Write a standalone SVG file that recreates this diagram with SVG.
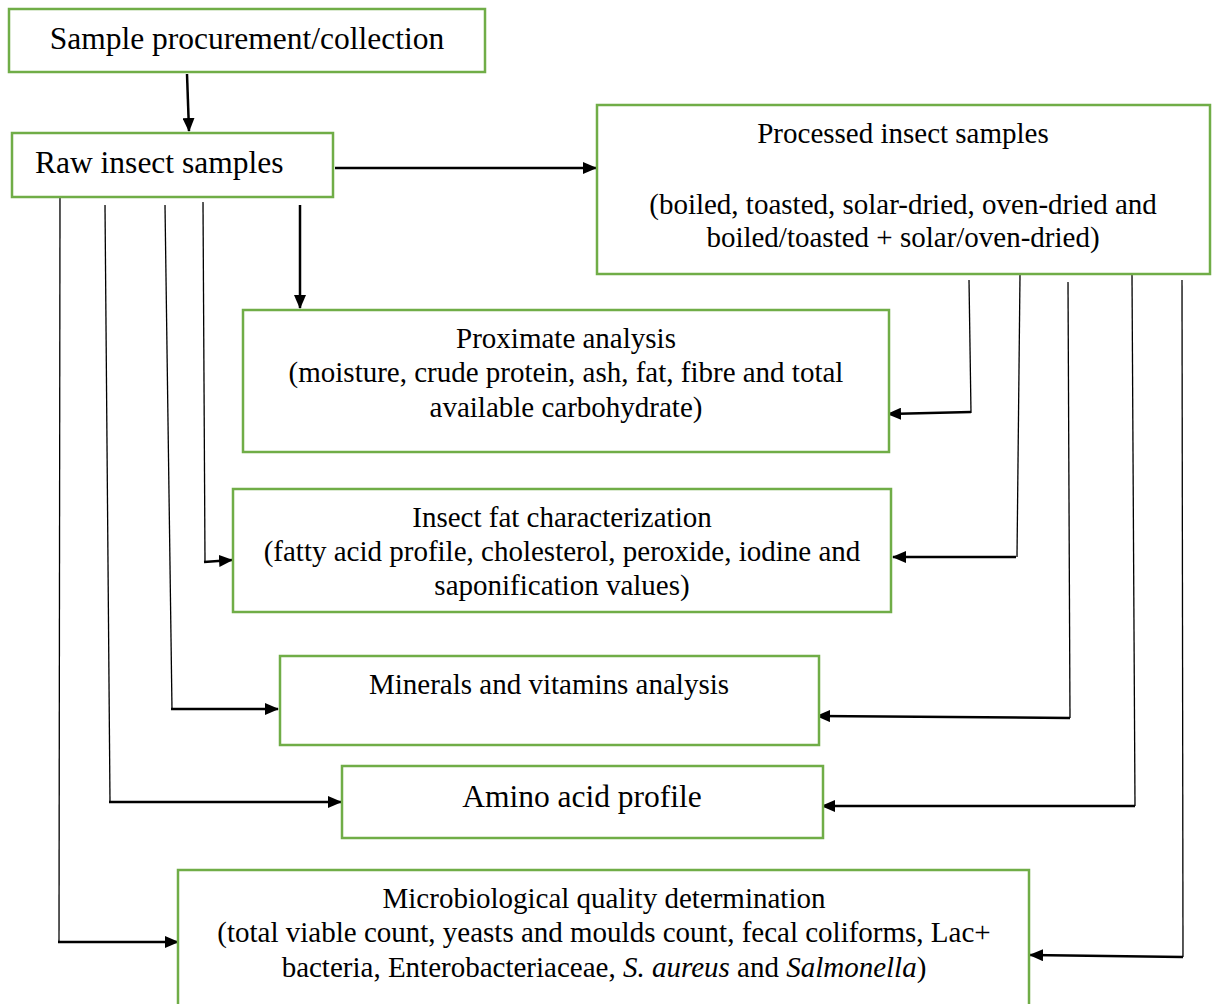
<svg xmlns="http://www.w3.org/2000/svg" width="1216" height="1004" viewBox="0 0 1216 1004">
<style>
.box{fill:#fff;stroke:#70AD47;stroke-width:2.5}
text{font-family:"Liberation Serif","Times New Roman",serif;fill:#000}
.t{font-size:29px}
.tb{font-size:31.5px}
.c{text-anchor:middle}
.v{stroke:#000;stroke-width:1.3;fill:none}
.h{stroke:#000;stroke-width:2.5;fill:none;marker-end:url(#ah)}
</style>
<defs>
<marker id="ah" markerUnits="userSpaceOnUse" markerWidth="14" markerHeight="12" refX="13" refY="6" orient="auto">
<path d="M0,0 L14,6 L0,12 Z" fill="#000"/>
</marker>
</defs>
<rect width="1216" height="1004" fill="#fff"/>
<g id="connectors">
<line class="h" x1="187" y1="74" x2="189" y2="131"/>
<line class="h" x1="335" y1="168" x2="596" y2="168"/>
<line class="h" x1="300" y1="205" x2="300" y2="308"/>
<line class="v" x1="60" y1="197" x2="59" y2="942"/>
<line class="h" x1="58" y1="942" x2="178" y2="942"/>
<line class="v" x1="105" y1="205" x2="110" y2="802"/>
<line class="h" x1="109" y1="802" x2="341" y2="802"/>
<line class="v" x1="165" y1="205" x2="172" y2="709"/>
<line class="h" x1="171" y1="709" x2="278" y2="709"/>
<line class="v" x1="203" y1="202" x2="205" y2="562"/>
<line class="h" x1="204" y1="562" x2="232" y2="560"/>
<line class="v" x1="969" y1="280" x2="971" y2="413"/>
<line class="h" x1="971" y1="412" x2="888" y2="414"/>
<line class="v" x1="1020" y1="275" x2="1017" y2="557"/>
<line class="h" x1="1016" y1="557" x2="893" y2="557"/>
<line class="v" x1="1068" y1="282" x2="1070" y2="718"/>
<line class="h" x1="1070" y1="718" x2="817" y2="716"/>
<line class="v" x1="1132" y1="275" x2="1135" y2="806"/>
<line class="h" x1="1135" y1="806" x2="822" y2="806"/>
<line class="v" x1="1182" y1="280" x2="1183" y2="957"/>
<line class="h" x1="1183" y1="957" x2="1030" y2="955"/>
</g>
<g id="n1">
<rect class="box" x="9" y="9" width="476" height="63"/>
<text class="tb c" x="247" y="49">Sample procurement/collection</text>
</g>
<g id="n2">
<rect class="box" x="12" y="133" width="321" height="64"/>
<text class="tb" x="35" y="173">Raw insect samples</text>
</g>
<g id="n3">
<rect class="box" x="597" y="105" width="613" height="169"/>
<text class="t c" x="903" y="143">Processed insect samples</text>
<text class="t c" x="903" y="214">(boiled, toasted, solar-dried, oven-dried and</text>
<text class="t c" x="903" y="247">boiled/toasted + solar/oven-dried)</text>
</g>
<g id="n4">
<rect class="box" x="243" y="310" width="646" height="142"/>
<text class="t c" x="566" y="348">Proximate analysis</text>
<text class="t c" x="566" y="382">(moisture, crude protein, ash, fat, fibre and total</text>
<text class="t c" x="566" y="417">available carbohydrate)</text>
</g>
<g id="n5">
<rect class="box" x="233" y="489" width="658" height="123"/>
<text class="t c" x="562" y="527">Insect fat characterization</text>
<text class="t c" x="562" y="561">(fatty acid profile, cholesterol, peroxide, iodine and</text>
<text class="t c" x="562" y="595">saponification values)</text>
</g>
<g id="n6">
<rect class="box" x="280" y="656" width="539" height="89"/>
<text class="t c" x="549" y="694">Minerals and vitamins analysis</text>
</g>
<g id="n7">
<rect class="box" x="342" y="766" width="481" height="72"/>
<text class="tb c" x="582" y="807">Amino acid profile</text>
</g>
<g id="n8">
<rect class="box" x="178" y="870" width="851" height="140"/>
<text class="t c" x="604" y="908">Microbiological quality determination</text>
<text class="t c" x="604" y="942">(total viable count, yeasts and moulds count, fecal coliforms, Lac+</text>
<text class="t c" x="604" y="977">bacteria, Enterobacteriaceae, <tspan font-style="italic">S. aureus</tspan> and <tspan font-style="italic">Salmonella</tspan>)</text>
</g>
</svg>
